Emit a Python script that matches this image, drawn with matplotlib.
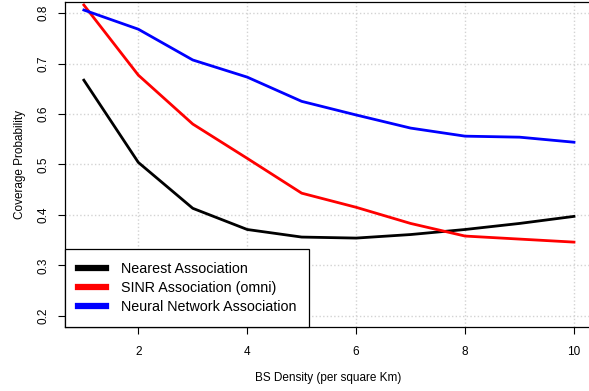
import numpy as np
import matplotlib.pyplot as plt

plt.rcParams['font.family'] = ['Liberation Sans', 'DejaVu Sans']

densidad = [1, 2, 3, 4, 5, 6, 7, 8, 9, 10]
nearest = [0.667, 0.504, 0.413, 0.371, 0.356, 0.354, 0.361, 0.371, 0.383, 0.397]
sinr = [0.816, 0.677, 0.580, 0.512, 0.443, 0.415, 0.383, 0.358, 0.352, 0.346]
neural = [0.806, 0.768, 0.707, 0.673, 0.625, 0.598, 0.572, 0.556, 0.554, 0.544]

fig = plt.figure(figsize=(5.89, 3.91), dpi=100)
ax = fig.add_axes([0.110, 0.164, 0.895, 0.831])

ax.plot(densidad, nearest, color='black', lw=2.0, label='Nearest Association')
ax.plot(densidad, sinr, color='red', lw=2.0, label='SINR Association (omni)')
ax.plot(densidad, neural, color='blue', lw=2.0, label='Neural Network Association')

ax.set_xlim(0.65, 10.33)
ax.set_ylim(0.178, 0.822)
ax.set_xticks([2, 4, 6, 8, 10])
ax.set_yticks([0.2, 0.3, 0.4, 0.5, 0.6, 0.7, 0.8])
ax.set_yticklabels(['0.2', '0.3', '0.4', '0.5', '0.6', '0.7', '0.8'], rotation=90, va='center')
ax.tick_params(labelsize=8.5, length=5, width=0.8, pad=6)
ax.tick_params(axis='x', pad=9)
ax.grid(True, color='lightgray', linestyle=':', lw=1)
for s in ax.spines.values():
    s.set_linewidth(0.9)
ax.spines['right'].set_visible(False)

ax.set_xlabel('BS Density (per square Km)', fontsize=8.5, labelpad=10)
ax.set_ylabel('Coverage Probability', fontsize=8.5, labelpad=8)

leg = ax.legend(loc='lower left', bbox_to_anchor=(0, 0), borderaxespad=0,
                fancybox=False, edgecolor='black', framealpha=1, fontsize=10.3,
                handlelength=2.0, labelspacing=0.35, borderpad=0.9, handletextpad=1.0)
leg.get_frame().set_linewidth(0.9)
for l in leg.get_lines():
    l.set_linewidth(4.5)

plt.savefig('out.png')
